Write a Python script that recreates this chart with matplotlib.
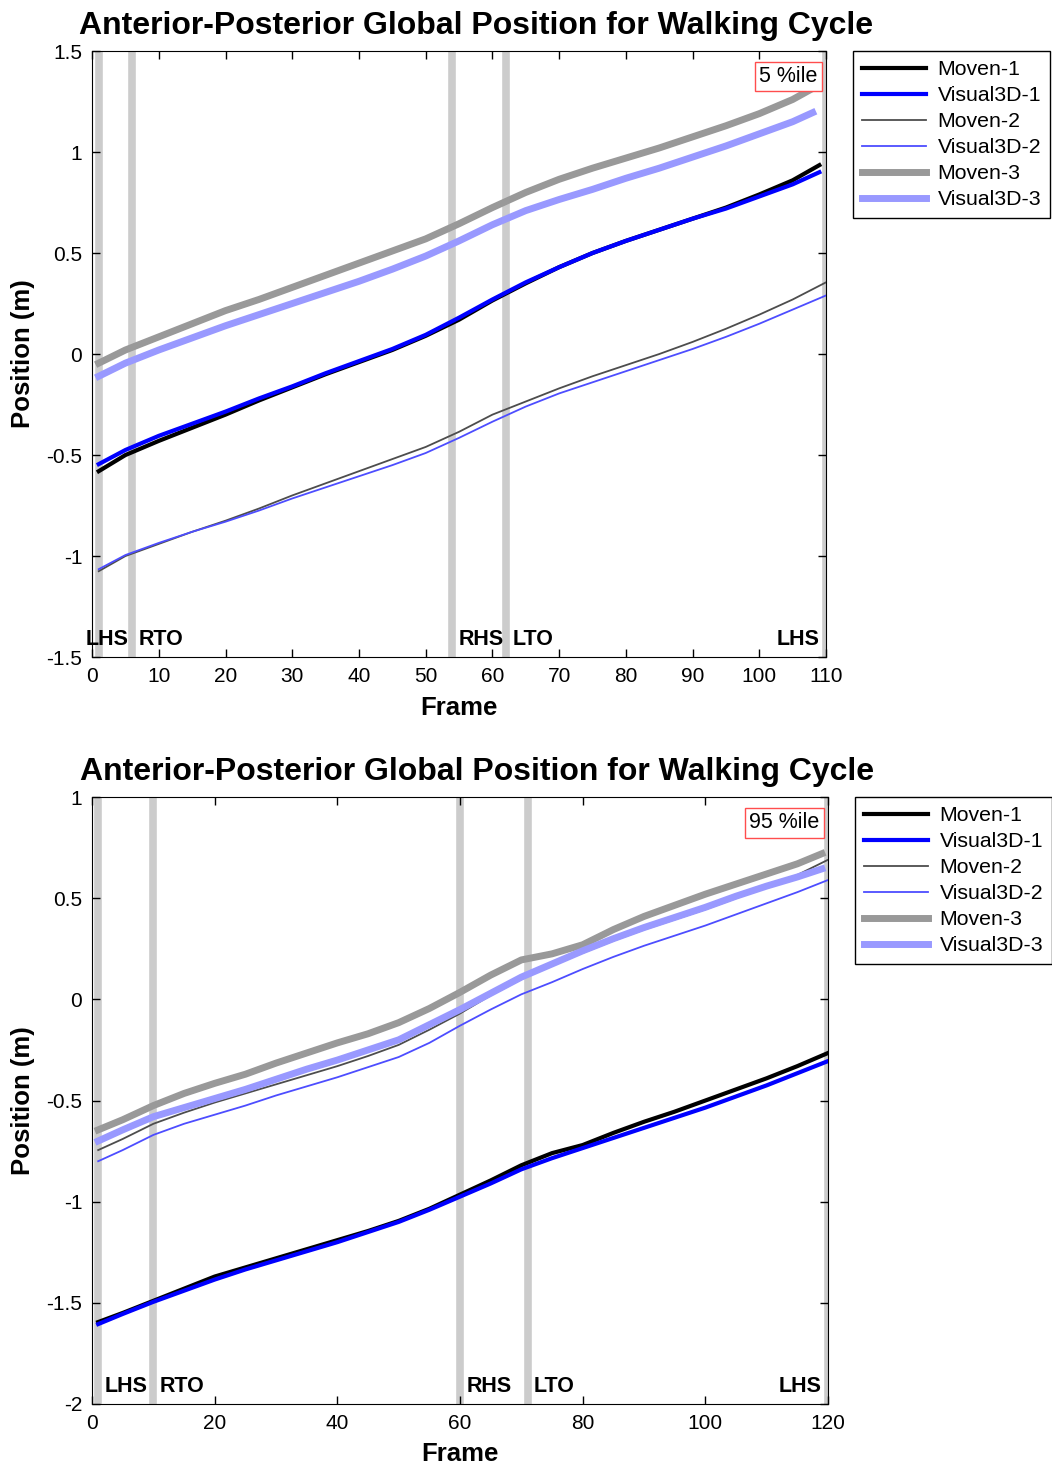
import numpy as np
import matplotlib
matplotlib.use("Agg")
import matplotlib.pyplot as plt

# 1) Fonte tipo Arial
plt.rcParams['font.family'] = ['Liberation Sans', 'DejaVu Sans']

# 2) Dados - 5 %ile (quadros 1..110)
frames_5 = [1, 5, 10, 15, 20, 25, 30, 35, 40, 45, 50, 55, 60, 65, 70, 75, 80, 85, 90, 95, 100, 105, 109]
moven1_5 = [-0.58, -0.50, -0.43, -0.365, -0.30, -0.23, -0.165, -0.10, -0.04, 0.02, 0.09, 0.17,
            0.265, 0.35, 0.43, 0.50, 0.56, 0.615, 0.67, 0.725, 0.79, 0.86, 0.935]
visual1_5 = [-0.545, -0.475, -0.405, -0.345, -0.285, -0.22, -0.16, -0.095, -0.035, 0.025, 0.095, 0.18,
             0.27, 0.355, 0.43, 0.50, 0.56, 0.615, 0.67, 0.72, 0.78, 0.84, 0.90]

frames_5b = [1, 5, 10, 15, 20, 25, 30, 35, 40, 45, 50, 55, 60, 65, 70, 75, 80, 85, 90, 95, 100, 105, 110]
moven2_5 = [-1.075, -1.00, -0.94, -0.88, -0.825, -0.765, -0.70, -0.64, -0.58, -0.52, -0.46, -0.385,
            -0.30, -0.235, -0.17, -0.11, -0.055, 0.00, 0.06, 0.125, 0.195, 0.27, 0.355]
visual2_5 = [-1.065, -0.995, -0.935, -0.88, -0.83, -0.775, -0.715, -0.66, -0.605, -0.55, -0.49, -0.415,
             -0.335, -0.26, -0.195, -0.14, -0.085, -0.03, 0.025, 0.085, 0.15, 0.22, 0.29]

frames_5c = [1, 5, 10, 15, 20, 25, 30, 35, 40, 45, 50, 55, 60, 65, 70, 75, 80, 85, 90, 95, 100, 105, 108]
moven3_5 = [-0.045, 0.02, 0.085, 0.15, 0.215, 0.27, 0.33, 0.39, 0.45, 0.51, 0.57, 0.645,
            0.725, 0.80, 0.865, 0.92, 0.97, 1.02, 1.075, 1.13, 1.19, 1.26, 1.315]
visual3_5 = [-0.11, -0.045, 0.02, 0.08, 0.14, 0.195, 0.25, 0.305, 0.36, 0.42, 0.485, 0.56,
             0.64, 0.71, 0.765, 0.815, 0.87, 0.92, 0.975, 1.03, 1.09, 1.15, 1.195]

# 3) Dados - 95 %ile (quadros 1..120)
frames_95 = [1, 5, 10, 15, 20, 25, 30, 35, 40, 45, 50, 55, 60, 65, 70, 75, 80, 85, 90, 95, 100, 105, 110, 115, 120]
moven1_95 = [-1.595, -1.55, -1.49, -1.43, -1.37, -1.325, -1.28, -1.235, -1.19, -1.145, -1.095, -1.035,
             -0.965, -0.895, -0.82, -0.76, -0.72, -0.66, -0.605, -0.555, -0.50, -0.445, -0.39, -0.33, -0.265]
visual1_95 = [-1.605, -1.555, -1.495, -1.44, -1.385, -1.335, -1.29, -1.245, -1.20, -1.15, -1.10, -1.04,
              -0.975, -0.91, -0.84, -0.785, -0.735, -0.685, -0.635, -0.585, -0.535, -0.48, -0.425, -0.365, -0.305]
moven2_95 = [-0.745, -0.69, -0.615, -0.56, -0.51, -0.465, -0.42, -0.375, -0.33, -0.28, -0.225, -0.15,
             -0.07, 0.02, 0.10, 0.17, 0.23, 0.29, 0.345, 0.395, 0.445, 0.50, 0.555, 0.615, 0.69]
visual2_95 = [-0.80, -0.745, -0.67, -0.615, -0.57, -0.525, -0.475, -0.43, -0.385, -0.335, -0.285, -0.215,
              -0.13, -0.05, 0.025, 0.085, 0.15, 0.21, 0.265, 0.315, 0.365, 0.42, 0.475, 0.53, 0.59]

frames_95c = [1, 5, 10, 15, 20, 25, 30, 35, 40, 45, 50, 55, 60, 65, 70, 75, 80, 85, 90, 95, 100, 105, 110, 115, 119]
moven3_95 = [-0.645, -0.595, -0.525, -0.465, -0.415, -0.37, -0.315, -0.265, -0.215, -0.17, -0.115, -0.045,
             0.035, 0.12, 0.195, 0.225, 0.27, 0.345, 0.41, 0.465, 0.52, 0.57, 0.62, 0.67, 0.72]
visual3_95 = [-0.70, -0.645, -0.58, -0.535, -0.49, -0.445, -0.395, -0.345, -0.30, -0.25, -0.20, -0.125,
              -0.05, 0.03, 0.11, 0.175, 0.24, 0.30, 0.355, 0.405, 0.455, 0.51, 0.56, 0.605, 0.645]

# 4) Eventos da marcha
event_names = ['LHS', 'RTO', 'RHS', 'LTO', 'LHS']
events_5 = [1, 6, 54, 62, 110]
events_95 = [1, 10, 60, 71, 120]

labels = ['Moven-1', 'Visual3D-1', 'Moven-2', 'Visual3D-2', 'Moven-3', 'Visual3D-3']
colors = ['black', (0, 0, 1), (0.3, 0.3, 0.3), (0.3, 0.3, 1), (0.6, 0.6, 0.6), (0.6, 0.6, 1)]
widths = [3, 3, 1.3, 1.3, 5, 5]


def painel(ax, series, events, xmax, xstep, ylim, ystep, pct, first_label_x):
    for ev in events:
        ax.axvline(ev, color=(0.8, 0.8, 0.8), lw=5.5, zorder=1)
    for (xs, ys), lab, c, w in zip(series, labels, colors, widths):
        ax.plot(xs, ys, color=c, lw=w, label=lab, zorder=3)
    ax.set_xlim(0, xmax)
    ax.set_ylim(*ylim)
    ax.set_xticks(np.arange(0, xmax + 1, xstep))
    yt = np.arange(ylim[0], ylim[1] + 0.01, ystep)
    ax.set_yticks(yt)
    ax.set_yticklabels(['%g' % v for v in yt])
    ax.tick_params(direction='in', top=True, right=True, labelsize=15, length=6, width=1, pad=7)
    ax.set_title('Anterior-Posterior Global Position for Walking Cycle',
                 fontsize=23, fontweight='bold', pad=12, x=0.523)
    ax.set_xlabel('Frame', fontsize=18.5, fontweight='bold', labelpad=7)
    ax.set_ylabel('Position (m)', fontsize=18.5, fontweight='bold', labelpad=8)

    # rótulos dos eventos
    ytxt = ylim[0] + 0.012 * (ylim[1] - ylim[0])
    for i, (ev, name) in enumerate(zip(events, event_names)):
        if i == 0:
            ax.text(first_label_x, ytxt, name, ha='left', va='bottom', fontsize=15.5, fontweight='bold', zorder=4)
        elif i == len(events) - 1:
            ax.text(ev - 1, ytxt, name, ha='right', va='bottom', fontsize=15.5, fontweight='bold', zorder=4)
        else:
            ax.text(ev + 1, ytxt, name, ha='left', va='bottom', fontsize=15.5, fontweight='bold', zorder=4)

    ax.text(0.988, 0.975, pct, transform=ax.transAxes, ha='right', va='top', fontsize=15.5,
            bbox=dict(boxstyle='square,pad=0.2', fc='white', ec=(1, 0.3, 0.3), lw=1), zorder=5)

    leg = ax.legend(loc='upper left', bbox_to_anchor=(1.037, 1.0), borderaxespad=0,
                    fontsize=15.3, handlelength=3.0, labelspacing=0.33, handletextpad=0.55,
                    borderpad=0.42, fancybox=False, framealpha=1)
    leg.get_frame().set_edgecolor('black')
    leg.get_frame().set_linewidth(1)


fig = plt.figure(figsize=(10.52, 14.66), dpi=100)
ax1 = fig.add_axes([0.0875, 0.5518, 0.6977, 0.4134])
ax2 = fig.add_axes([0.0875, 0.0423, 0.6996, 0.4140])

painel(ax1,
       [(frames_5, moven1_5), (frames_5, visual1_5), (frames_5b, moven2_5),
        (frames_5b, visual2_5), (frames_5c, moven3_5), (frames_5c, visual3_5)],
       events_5, 110, 10, (-1.5, 1.5), 0.5, '5 %ile', -1.0)
painel(ax2,
       [(frames_95, moven1_95), (frames_95, visual1_95), (frames_95, moven2_95),
        (frames_95, visual2_95), (frames_95c, moven3_95), (frames_95c, visual3_95)],
       events_95, 120, 20, (-2.0, 1.0), 0.5, '95 %ile', 2.0)

fig.savefig('out.png', dpi=100)
